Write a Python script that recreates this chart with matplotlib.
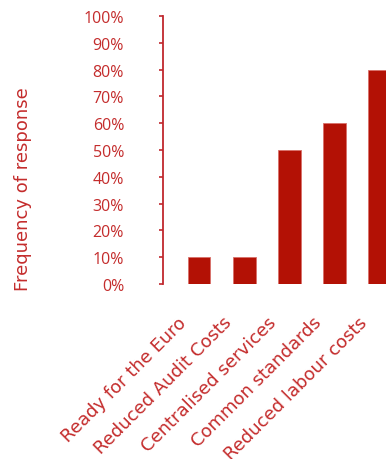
import numpy as np
import matplotlib
matplotlib.use("Agg")
import matplotlib.pyplot as plt
import matplotlib.transforms as mtransforms

categories = ["Ready for the Euro", "Reduced Audit Costs", "Centralised services",
              "Common standards", "Reduced labour costs"]
values = [10, 10, 50, 60, 80]
yticks = list(range(0, 101, 10))

bar_color = "#B31105"
text_color = "#C42C2C"

W, H = 386, 460
fig = plt.figure(figsize=(W / 100, H / 100), dpi=100)
ax = fig.add_axes([163 / W, 1 - 285 / H, 1 - 163 / W, (285 - 17) / H])

x = np.arange(len(categories))
ax.bar(x, values, width=0.5, color=bar_color, edgecolor="#D8706A", linewidth=0.6)

ax.set_xlim(-0.8, 4.14)
ax.set_ylim(0, 100)
ax.set_yticks(yticks)
ax.set_yticklabels(["{}%".format(v) for v in yticks], fontsize=11.5,
                   family="Open Sans", color=text_color)

for s in ["top", "right", "bottom"]:
    ax.spines[s].set_visible(False)
ax.spines["left"].set_color("#C0282D")
ax.spines["left"].set_linewidth(1.3)
ax.tick_params(axis="y", direction="out", length=3, width=1.2, color="#C0282D", pad=25)
ax.tick_params(axis="x", length=0, pad=0)

ax.set_xticks(x)
ax.set_xticklabels(categories, rotation=45, ha="right", rotation_mode="anchor",
                   fontsize=13, family="DejaVu Sans", color=text_color)
offset = mtransforms.ScaledTranslation(-22 / 100, -29 / 100, fig.dpi_scale_trans)
for lab in ax.get_xticklabels():
    lab.set_transform(lab.get_transform() + offset)

fig.text(23 / W, 1 - 189 / H, "Frequency of response", rotation=90, ha="center",
         va="center", fontsize=13, family="DejaVu Sans", color=text_color)

fig.savefig("out.png", dpi=100)
